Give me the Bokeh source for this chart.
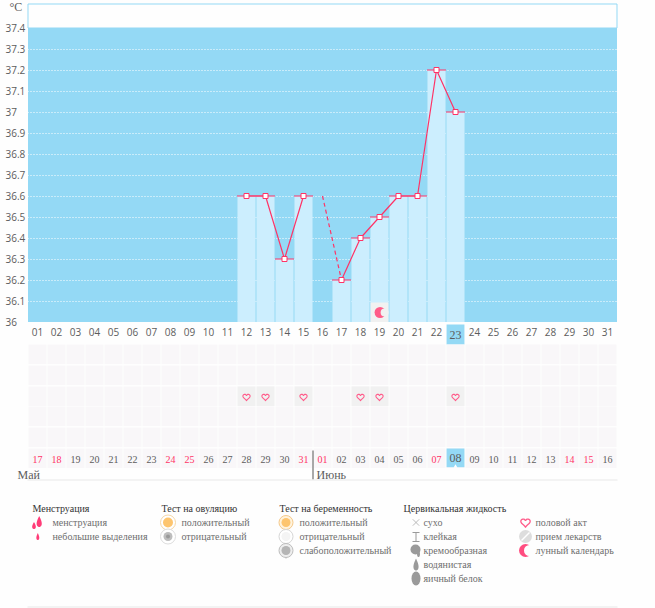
import numpy as np
from bokeh.embed import file_html
from bokeh.resources import INLINE
from bokeh.plotting import figure
from bokeh.models import Range1d, LinearAxis, FixedTicker, Grid

# ---- data
bar_days = [12, 13, 14, 15, 17, 18, 19, 20, 21, 22, 23]
bar_temps = [36.6, 36.6, 36.3, 36.6, 36.2, 36.4, 36.5, 36.6, 36.6, 37.2, 37.0]
line_a_days = [12, 13, 14, 15]
line_a_temps = [36.6, 36.6, 36.3, 36.6]
line_b_days = [17, 18, 19, 20, 21, 22, 23]
line_b_temps = [36.2, 36.4, 36.5, 36.6, 36.6, 37.2, 37.0]
dash_days = [16, 17]
dash_temps = [36.6, 36.2]
temp_ticks = [36, 36.1, 36.2, 36.3, 36.4, 36.5, 36.6, 36.7, 36.8, 36.9, 37, 37.1, 37.2, 37.3, 37.4]
temp_labels = ["36", "36.1", "36.2", "36.3", "36.4", "36.5", "36.6", "36.7", "36.8", "36.9", "37", "37.1", "37.2", "37.3", "37.4"]
day_ticks = list(range(1, 32))
day_labels = ["01", "02", "03", "04", "05", "06", "07", "08", "09", "10", "11", "12", "13", "14", "15", "16",
              "17", "18", "19", "20", "21", "22", "23", "24", "25", "26", "27", "28", "29", "30", "31"]
date_labels = ["17", "18", "19", "20", "21", "22", "23", "24", "25", "26", "27", "28", "29", "30", "31", "01",
               "02", "03", "04", "05", "06", "07", "08", "09", "10", "11", "12", "13", "14", "15", "16"]
date_red = ["17", "18", "24", "25", "31", "01", "07", "14", "15"]
heart_days = [12, 13, 15, 18, 19, 23]
moon_days = [19]
today = 23
legend_heads = ["Менструация", "Тест на овуляцию", "Тест на беременность", "Цервикальная жидкость"]
legend_items = [["менструация", "небольшие выделения"],
                ["положительный", "отрицательный"],
                ["положительный", "отрицательный", "слабоположительный"],
                ["сухо", "клейкая", "кремообразная", "водянистая", "яичный белок"],
                ["половой акт", "прием лекарств", "лунный календарь"]]

# ---- layout constants (pixels of the page)
W, H = 655, 608
X0, DX = 27.5, 19.0      # left edge of day 1, width of a day
Y36, DY = 321.5, 210.0   # pixel of 36 degrees, pixels per degree
day_x = lambda px: 0.5 + (px - X0) / DX
temp_y = lambda py: 36 + (Y36 - py) / DY
ROW_TOPS = [344, 365, 386, 406, 427, 448]
ROW_H = 19.5
HEART_ROW = 2
PINK, BLUE, PALE = "#ff3366", "#94d9f5", "#cceefe"
CELL, CELL_ON = "#f9f7f9", "#f1f1f1"
TXT, FONT = "#5c5c5c", "Open Sans"

p = figure(width=W, height=H, output_backend="svg", toolbar_location=None,
           x_range=Range1d(day_x(0), day_x(W)), y_range=Range1d(temp_y(H), temp_y(0)),
           x_axis_type=None, y_axis_type=None, min_border=0,
           background_fill_color="#fefefe", border_fill_color="#fefefe", outline_line_color=None)
p.styles = {"position": "absolute", "left": "0", "top": "0"}
p.grid.visible = False
p.extra_x_ranges = {"px": Range1d(0, W)}
p.extra_y_ranges = {"py": Range1d(H, 0)}
PX = dict(x_range_name="px", y_range_name="py")
PY = dict(y_range_name="py")

# plot area
p.quad(left=[0.5], right=[31.5], bottom=[37.4], top=[temp_y(3.5)], fill_color="#fefefe",
       line_color=BLUE, line_width=1, level="image")
p.quad(left=[0.5], right=[31.5], bottom=[36], top=[37.4], fill_color=BLUE, line_color=None, level="image")
p.add_layout(Grid(dimension=1, ticker=FixedTicker(ticks=temp_ticks[1:-1]), grid_line_color="#ffffff",
                  grid_line_dash=[1, 2], grid_line_width=1, level="underlay"))

# bars
d = np.array(bar_days, float)
p.vbar(x=bar_days, top=bar_temps, bottom=36, width=0.95, fill_color=PALE, line_color=None)
# moon mark on its cell
md = np.array(moon_days, float)
p.quad(left=md - 0.47, right=md + 0.47, bottom=36, top=temp_y(302), fill_color=CELL_ON, line_color=None)
p.scatter(x=md + 0.03, y=[temp_y(312)] * len(md), size=11, marker="circle", fill_color="#ff5c88", line_color=None)
p.scatter(x=md + 0.27, y=[temp_y(312)] * len(md), size=8, marker="circle", fill_color=CELL_ON, line_color=None)

# lines
p.segment(x0=d - 0.5, x1=d + 0.5, y0=bar_temps, y1=bar_temps, line_color=PINK, line_width=1)
p.line(line_a_days, line_a_temps, line_color=PINK, line_width=1.2)
p.line(line_b_days, line_b_temps, line_color=PINK, line_width=1.2)
p.line(dash_days, dash_temps, line_color=PINK, line_width=1.2, line_dash=[4, 3])
p.scatter(x=bar_days, y=bar_temps, marker="square", size=5, fill_color="#ffffff", line_color=PINK, line_width=1)

# axes
yaxis = LinearAxis(ticker=FixedTicker(ticks=temp_ticks),
                   major_label_overrides=dict(zip(temp_ticks, temp_labels)),
                   axis_line_color=None, major_tick_line_color=None, minor_tick_line_color=None,
                   major_tick_out=0, major_tick_in=0, minor_tick_out=0, minor_tick_in=0,
                   major_label_standoff=0, major_label_text_font=FONT, major_label_text_font_size="10px",
                   major_label_text_color=TXT, fixed_location=day_x(5))
p.add_layout(yaxis, "right")
top_labels = dict(zip(day_ticks, day_labels))
top_labels[today] = ""
xaxis = LinearAxis(ticker=FixedTicker(ticks=day_ticks), major_label_overrides=top_labels,
                   axis_line_color=None, major_tick_line_color=None, minor_tick_line_color=None,
                   major_tick_out=0, major_tick_in=0, minor_tick_out=0, minor_tick_in=0,
                   major_label_standoff=0, major_label_text_font=FONT, major_label_text_font_size="10px",
                   major_label_text_color=TXT, fixed_location=temp_y(327))
p.add_layout(xaxis, "below")

# today cell in the day row
p.quad(left=[today - 0.47], right=[today + 0.47], top=[temp_y(324)], bottom=[temp_y(344)],
       fill_color=BLUE, line_color=None)
p.text(x=[today], y=[temp_y(334)], text=[day_labels[today - 1]], text_font=FONT, text_font_size="12px",
       text_color=TXT, text_align="center", text_baseline="middle")
p.text(x=day_x(9), y=temp_y(6.5), text=["°C"], text_font=FONT, text_font_size="12px", text_color=TXT,
       text_baseline="middle")

# symptom grid
days = np.array(day_ticks, float)
for top in ROW_TOPS:
    p.quad(left=days - 0.47, right=days + 0.47, top=[top] * 31, bottom=[top + ROW_H] * 31,
           fill_color=CELL, line_color=None, **PY)
hd = np.array(heart_days, float)
hy = ROW_TOPS[HEART_ROW]
p.quad(left=hd - 0.47, right=hd + 0.47, top=[hy] * len(hd), bottom=[hy + ROW_H] * len(hd),
       fill_color=CELL_ON, line_color=None, **PY)

t = np.linspace(0, 2 * np.pi, 40)
heart_x = 16 * np.sin(t) ** 3 / 16 * 3.6
heart_y = -(13 * np.cos(t) - 5 * np.cos(2 * t) - 2 * np.cos(3 * t) - np.cos(4 * t)) / 16 * 3.6
p.patches(xs=[list(x + heart_x / DX) for x in hd], ys=[list(hy + 10.5 + heart_y) for _ in hd],
          fill_alpha=0, line_color="#ff5c8a", line_width=1.1, **PY)

# dates row
p.quad(left=[today - 0.47], right=[today + 0.47], top=[448], bottom=[466.7], fill_color=BLUE, line_color=None, **PY)
p.scatter(x=[today], y=[466], marker="triangle", size=4, fill_color="#ffffff", line_color=None, **PY)
p.text(x=day_ticks, y=[459] * 31,
       text=[("" if i == today - 1 else s) for i, s in enumerate(date_labels)],
       text_color=[PINK if s in date_red else TXT for s in date_labels],
       text_font=FONT, text_font_size="10px", text_align="center", text_baseline="middle", **PY)
p.text(x=[today], y=[457], text=[date_labels[today - 1]], text_font=FONT, text_font_size="12px",
       text_color=TXT, text_align="center", text_baseline="middle", **PY)

# month labels and rules
p.text(x=[17, 316], y=[474, 474], text=["Май", "Июнь"], text_font=FONT, text_font_size="12px", text_color=TXT,
       text_baseline="middle", **PX)
p.segment(x0=[312.5], x1=[312.5], y0=[450], y1=[479], line_color="#555555", line_width=1, **PX)
p.segment(x0=[27, 27], x1=[617, 617], y0=[479.5, 606.5], y1=[479.5, 606.5], line_color="#e8e8e8", line_width=1, **PX)

# legend text
head_x = [32, 161, 279, 403]
item_x = [52, 181, 299, 423, 535]
LEG_Y0, LEG_DY = 522, 14
p.text(x=head_x, y=[508] * 4, text=legend_heads, text_font=FONT, text_font_size="10px", text_color="#333333",
       text_baseline="middle", **PX)
for xx, items in zip(item_x, legend_items):
    p.text(x=[xx] * len(items), y=[LEG_Y0 + i * LEG_DY for i in range(len(items))], text=items,
           text_font=FONT, text_font_size="10px", text_color="#6e6e6e", text_baseline="middle", **PX)


def drop(cx, cy, w, h):
    a = np.linspace(0, 2 * np.pi, 24)
    xs = cx + w / 2 * np.sin(a) * np.sin(a / 2) ** 1.2
    ys = cy - h / 2 * np.cos(a)
    return list(xs), list(ys)


# legend icons: menstruation
mens = [drop(33.5, 525, 5, 7), drop(38.7, 521, 7, 11), drop(37.3, 536, 4, 7)]
p.patches(xs=[m[0] for m in mens], ys=[m[1] for m in mens], fill_color="#ff3c78", line_color=None, **PX)

# ovulation tests
p.scatter(x=[167.5], y=[522], size=15, marker="circle", fill_color="#ffffff", line_color="#f5d7a8", **PX)
p.scatter(x=[167.5], y=[522], size=10, marker="circle", fill_color="#fdc56f", line_color=None, **PX)
p.scatter(x=[167.5], y=[536], size=15, marker="circle", fill_color="#ffffff", line_color="#dddddd", **PX)
p.scatter(x=[167.5], y=[536], size=9, marker="circle", fill_color="#bdbdbd", line_color=None, **PX)
p.scatter(x=[167.5], y=[536], size=4, marker="circle", fill_color="#999999", line_color=None, **PX)

# pregnancy tests
for yy, outer, inner, ring in [(522, "#fff3dd", "#fdc56f", "#f5c98a"),
                               (536, "#ffffff", "#f4f4f4", "#d6d6d6"),
                               (550, "#eeeeee", "#b5b5b5", "#bdbdbd")]:
    p.scatter(x=[285.5], y=[yy + 5], size=6, marker="inverted_triangle", fill_color=ring, line_color=None, **PX)
    p.scatter(x=[285.5], y=[yy], size=14, marker="circle", fill_color=outer, line_color=ring, **PX)
    p.scatter(x=[285.5], y=[yy], size=9, marker="circle", fill_color=inner, line_color=None, **PX)

# cervical fluid
GR = "#9a9a9a"
p.scatter(x=[415.5], y=[522], size=9, marker="x", line_color="#aaaaaa", line_width=0.8, **PX)
p.multi_line(xs=[[412, 419], [412, 419], [415.5, 415.5]], ys=[[532, 532], [541, 541], [532, 541]],
             line_color=GR, line_width=1, **PX)
p.scatter(x=[415], y=[549], size=10, marker="circle", fill_color=GR, line_color=None, **PX)
cream = drop(418, 552, 4, 9)
water = drop(415.5, 564, 7, 12)
p.patches(xs=[cream[0], water[0]], ys=[cream[1], water[1]], fill_color=GR, line_color=None, **PX)
p.ellipse(x=[415.5], y=[578], width=9, height=14, fill_color=GR, line_color=None, **PX)

# heart, pill, moon
p.patches(xs=[list(525 + heart_x * 1.3)], ys=[list(522 + heart_y * 1.3)], fill_alpha=0,
          line_color="#ff5c8a", line_width=1.3, **PX)
p.scatter(x=[525], y=[536], size=13, marker="circle", fill_color="#dddddd", line_color=None, **PX)
p.segment(x0=[521], y0=[540], x1=[529], y1=[532], line_color="#ffffff", line_width=1.5, **PX)
p.scatter(x=[525], y=[550], size=13, marker="circle", fill_color="#ff4d80", line_color=None, **PX)
p.scatter(x=[529], y=[550], size=11, marker="circle", fill_color="#fefefe", line_color=None, **PX)

open("out.html", "w").write(file_html(p, INLINE))
